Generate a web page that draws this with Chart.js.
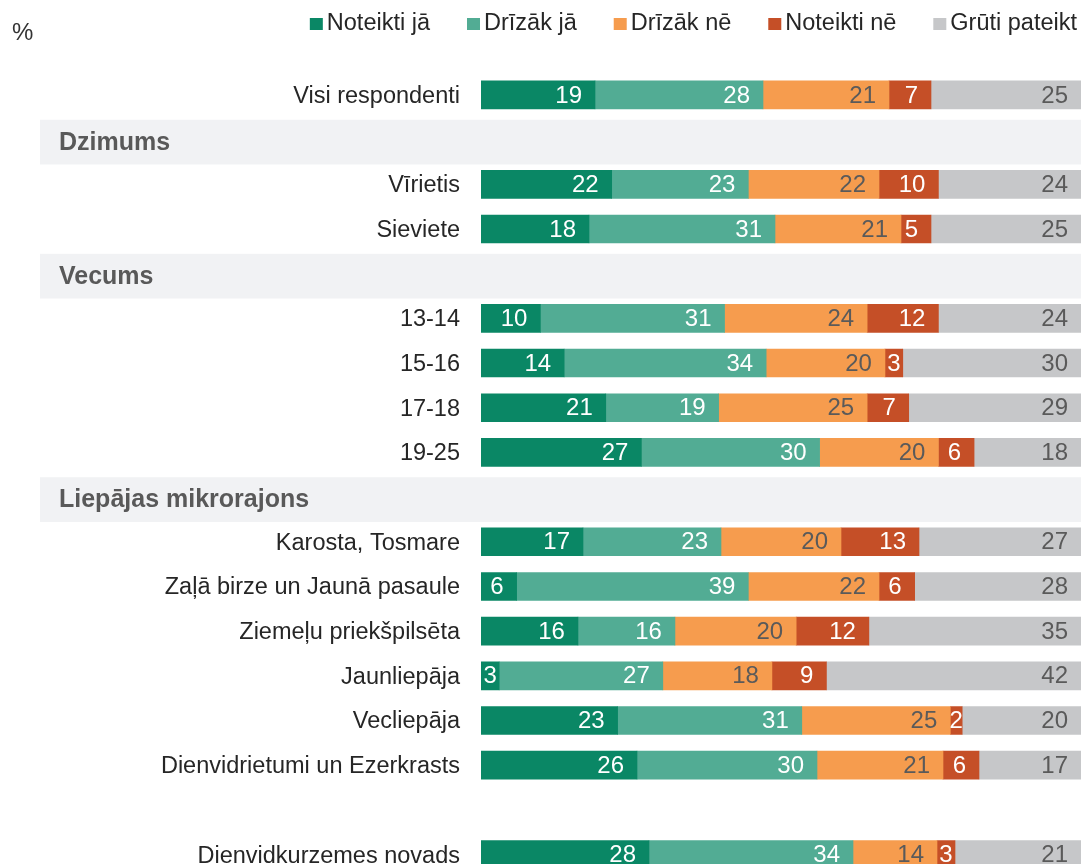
<!DOCTYPE html>
<html>
<head>
<meta charset="utf-8">
<script src="https://cdn.jsdelivr.net/npm/chart.js@4"></script>
<style>
  html, body { margin: 0; padding: 0; background: #ffffff; overflow: hidden; }
  canvas { display: block; }
</style>
</head>
<body>
<canvas id="c" width="1081" height="912"></canvas>
<script>
const categories = ['Visi respondenti', 'Dzimums', 'Vīrietis', 'Sieviete', 'Vecums', '13-14', '15-16', '17-18', '19-25',
  'Liepājas mikrorajons', 'Karosta, Tosmare', 'Zaļā birze un Jaunā pasaule', 'Ziemeļu priekšpilsēta', 'Jaunliepāja',
  'Vecliepāja', 'Dienvidrietumi un Ezerkrasts', '', 'Dienvidkurzemes novads'];
const groupHeaders = ['Dzimums', 'Vecums', 'Liepājas mikrorajons'];
const seriesNames = ['Noteikti jā', 'Drīzāk jā', 'Drīzāk nē', 'Noteikti nē', 'Grūti pateikt'];

const noteiktiJa   = [19, null, 22, 18, null, 10, 14, 21, 27, null, 17,  6, 16,  3, 23, 26, null, 28];
const drizakJa     = [28, null, 23, 31, null, 31, 34, 19, 30, null, 23, 39, 16, 27, 31, 30, null, 34];
const drizakNe     = [21, null, 22, 21, null, 24, 20, 25, 20, null, 20, 22, 20, 18, 25, 21, null, 14];
const noteiktiNe   = [ 7, null, 10,  5, null, 12,  3,  7,  6, null, 13,  6, 12,  9,  2,  6, null,  3];
const grutiPateikt = [25, null, 24, 25, null, 24, 30, 29, 18, null, 27, 28, 35, 42, 20, 17, null, 21];

const rawSeries = [noteiktiJa, drizakJa, drizakNe, noteiktiNe, grutiPateikt];
const colors = ['#0a8765', '#52ac94', '#f69c4e', '#c54f27', '#c6c7c9'];
const labelColors = ['#ffffff', '#ffffff', '#5a5a5a', '#ffffff', '#5a5a5a'];
const FONT = '"Liberation Sans", Arial, sans-serif';

// row totals (to show as 100% stacked bars)
const rowTotals = categories.map((_, i) => rawSeries.reduce((s, arr) => s + (arr[i] || 0), 0));

const datasets = rawSeries.map((arr, k) => ({
  label: seriesNames[k],
  data: arr.map((v, i) => v == null ? null : v / rowTotals[i] * 100),
  raw: arr,
  backgroundColor: colors[k],
  borderWidth: 0,
  barThickness: 28
}));

const decorPlugin = {
  id: 'decor',
  beforeDatasetsDraw(chart) {
    const ctx = chart.ctx;
    const y = chart.scales.y;
    const area = chart.chartArea;
    const slot = (area.bottom - area.top) / categories.length;
    ctx.save();
    categories.forEach((c, i) => {
      if (groupHeaders.includes(c)) {
        const cy = y.getPixelForValue(i) + 2.5;
        ctx.fillStyle = '#f1f2f4';
        ctx.fillRect(40, cy - slot / 2, area.right - 40, slot);
        ctx.fillStyle = '#595959';
        ctx.font = 'bold 25px ' + FONT;
        ctx.textAlign = 'left';
        ctx.textBaseline = 'middle';
        ctx.fillText(c, 59, cy + 1);
      }
    });
    ctx.restore();
  },
  afterDatasetsDraw(chart) {
    const ctx = chart.ctx;
    ctx.save();
    ctx.font = '24px ' + FONT;
    ctx.textBaseline = 'middle';
    chart.data.datasets.forEach((ds, k) => {
      const meta = chart.getDatasetMeta(k);
      meta.data.forEach((el, i) => {
        const v = ds.raw[i];
        if (v == null) return;
        const start = Math.min(el.base, el.x), end = Math.max(el.base, el.x);
        const txt = String(v);
        const w = ctx.measureText(txt).width;
        ctx.fillStyle = labelColors[k];
        if (end - 13 - w < start + 2) {
          ctx.textAlign = 'center';
          ctx.fillText(txt, (start + end) / 2, el.y + 1);
        } else {
          ctx.textAlign = 'right';
          ctx.fillText(txt, end - 13, el.y + 1);
        }
      });
    });
    ctx.restore();
  },
  afterDraw(chart) {
    const ctx = chart.ctx;
    ctx.save();
    ctx.font = '24px ' + FONT;
    ctx.textBaseline = 'middle';
    ctx.fillStyle = '#333333';
    ctx.textAlign = 'left';
    ctx.fillText('%', 12, 33);
    // legend, right aligned
    ctx.font = '23.5px ' + FONT;
    const box = 13, gap = 4, itemGap = 37, legendY = 24;
    let x = 1077;
    for (let k = seriesNames.length - 1; k >= 0; k--) {
      const w = ctx.measureText(seriesNames[k]).width;
      const tx = x - w;
      ctx.fillStyle = '#262626';
      ctx.fillText(seriesNames[k], tx, legendY);
      const bx = tx - gap - box;
      ctx.fillStyle = colors[k];
      ctx.fillRect(bx, legendY - 6, box, 12);
      x = bx - itemGap;
    }
    ctx.restore();
  }
};

new Chart(document.getElementById('c'), {
  type: 'bar',
  data: { labels: categories, datasets },
  options: {
    indexAxis: 'y',
    responsive: false,
    maintainAspectRatio: false,
    animation: false,
    layout: { padding: { top: 72.6, bottom: 1.6, left: 0, right: 0 } },
    plugins: { legend: { display: false }, tooltip: { enabled: false } },
    scales: {
      x: { stacked: true, min: 0, max: 100, display: false },
      y: {
        stacked: true,
        grid: { display: false, drawTicks: false },
        border: { display: false },
        afterFit(scale) { scale.width = 481; },
        ticks: {
          autoSkip: false,
          padding: 21,
          labelOffset: 1.5,
          color: '#262626',
          font: { family: FONT, size: 23.5 },
          callback(value) {
            const c = categories[value];
            return groupHeaders.includes(c) ? '' : c;
          }
        }
      }
    }
  },
  plugins: [decorPlugin]
});
</script>
</body>
</html>
